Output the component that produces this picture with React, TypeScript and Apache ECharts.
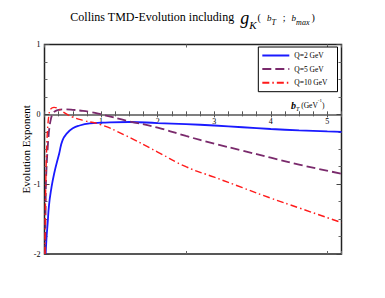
import React, { useEffect, useRef } from 'react';
import * as echarts from 'echarts';

const seriesNames = ['Q=2 GeV', 'Q=5 GeV', 'Q=10 GeV'];

const q2X = [0.02, 0.03, 0.04, 0.055, 0.08, 0.115, 0.17, 0.26, 0.32, 0.4, 0.5, 0.62, 0.8, 1.0, 1.5, 2.0, 2.5, 3.0, 3.5, 4.0, 4.5, 5.0, 5.25];
const q2Y = [-2.0, -1.85, -1.72, -1.57, -1.3, -1.09, -0.85, -0.56, -0.37, -0.27, -0.2, -0.16, -0.13, -0.12, -0.11, -0.125, -0.14, -0.16, -0.185, -0.21, -0.23, -0.245, -0.25];

const q5X = [0.012, 0.02, 0.025, 0.04, 0.055, 0.07, 0.085, 0.11, 0.14, 0.18, 0.25, 0.35, 0.5, 0.62, 0.8, 1.0, 1.5, 2.0, 2.5, 3.0, 3.5, 4.0, 4.5, 5.25];
const q5Y = [-2.0, -1.3, -1.0, -0.7, -0.5, -0.33, -0.2, -0.08, 0.0, 0.04, 0.065, 0.07, 0.065, 0.055, 0.035, 0.0, -0.1, -0.19, -0.31, -0.42, -0.52, -0.62, -0.72, -0.85];

const q10X = [0.008, 0.015, 0.025, 0.04, 0.06, 0.08, 0.1, 0.13, 0.17, 0.22, 0.3, 0.4, 0.5, 0.7, 1.0, 1.4, 2.0, 2.5, 3.0, 3.5, 4.0, 4.5, 5.25];
const q10Y = [-2.0, -1.4, -0.9, -0.45, -0.15, 0.0, 0.06, 0.09, 0.1, 0.09, 0.05, 0.0, -0.04, -0.09, -0.15, -0.29, -0.54, -0.75, -0.9, -1.05, -1.2, -1.34, -1.55];

const xTickValues = [1, 2, 3, 4, 5];
const yTickValues = [-2, -1, 0, 1];

const serif = "'Liberation Serif', 'Times New Roman', Times, serif";

const GRID_TOP = 44.5;
const GRID_BOTTOM = 44;
const CHART_H = 298;
const Y_MIN = -2;
const Y_MAX = 1;

export default function App() {
  const ref = useRef<HTMLDivElement>(null);
  useEffect(() => {
    const chart = echarts.init(ref.current!, null, { renderer: 'svg' });
    const zip = (xs: number[], ys: number[]) => xs.map((x, i) => [x, ys[i]]);
    const axisGray = '#555';
    const frame = '#222';
    const xFmt = (v: number) => (xTickValues.indexOf(v) >= 0 ? String(v) : '');
    const yFmt = (v: number) => (yTickValues.indexOf(v) >= 0 ? String(v) : '');
    const plotH = CHART_H - GRID_TOP - GRID_BOTTOM;
    const zeroOffset = -(plotH * (0 - Y_MIN)) / (Y_MAX - Y_MIN);
    const it = { fontFamily: serif, fontStyle: 'italic', color: '#000' };
    const up = { fontFamily: serif, color: '#000' };
    chart.setOption({
      animation: false,
      backgroundColor: '#fff',
      title: {
        left: 'center',
        top: 0,
        text: '{m|Collins TMD-Evolution including  }{g|g}{k|K}{p|(}{b1|b}{s|T}{sc|;}{b|b}{s|max}{pr|)}',
        textStyle: {
          fontFamily: serif,
          fontSize: 12,
          fontWeight: 'normal',
          color: '#000',
          lineHeight: 24,
          rich: {
            m: { ...up, fontSize: 12, lineHeight: 24, verticalAlign: 'middle' },
            g: { ...it, fontSize: 18, height: 21.4, lineHeight: 24, verticalAlign: 'bottom' },
            k: { ...it, fontSize: 11, height: 8.6, lineHeight: 24, verticalAlign: 'bottom' },
            p: { ...up, fontSize: 10, height: 22.2, lineHeight: 24, verticalAlign: 'bottom', padding: [0, 0, 0, 1] },
            pr: { ...up, fontSize: 10, height: 22.2, lineHeight: 24, verticalAlign: 'bottom', padding: [0, 0, 0, 2] },
            sc: { ...up, fontSize: 10, height: 22.2, lineHeight: 24, verticalAlign: 'bottom', padding: [0, 6, 0, 7] },
            b1: { ...it, fontSize: 9, height: 22.4, lineHeight: 24, verticalAlign: 'bottom', padding: [0, 0, 0, 6] },
            b: { ...it, fontSize: 9, height: 22.4, lineHeight: 24, verticalAlign: 'bottom' },
            s: { ...it, fontSize: 8, height: 12.6, lineHeight: 24, verticalAlign: 'bottom' },
          },
        },
      },
      legend: {
        data: seriesNames,
        orient: 'vertical',
        right: 47.5,
        top: 47,
        itemWidth: 27,
        itemHeight: 8,
        itemGap: 5.6,
        padding: [4.5, 10, 5, 3],
        borderColor: '#000',
        borderWidth: 1,
        borderRadius: 0,
        backgroundColor: '#fff',
        itemStyle: { opacity: 0, borderWidth: 0 },
        textStyle: { fontFamily: serif, fontSize: 7.5, color: '#000', lineHeight: 8 },
      },
      grid: {
        left: 44.5,
        right: 43.5,
        top: GRID_TOP,
        bottom: GRID_BOTTOM,
        show: true,
        borderColor: frame,
        borderWidth: 1.5,
        backgroundColor: 'transparent',
      },
      xAxis: [
        {
          type: 'value',
          min: 0,
          max: 5.25,
          interval: 1,
          position: 'bottom',
          offset: zeroOffset,
          axisLine: { show: true, onZero: false, lineStyle: { color: axisGray, width: 1.5 } },
          axisTick: { show: true, inside: false, length: 3, lineStyle: { color: axisGray, width: 1 } },
          minorTick: { show: true, splitNumber: 4, length: 2, lineStyle: { color: axisGray, width: 1 } },
          axisLabel: { fontFamily: serif, fontSize: 8, color: '#000', margin: 3, formatter: xFmt },
          splitLine: { show: false },
        },
        {
          type: 'value',
          min: 0,
          max: 5.25,
          interval: 1,
          position: 'bottom',
          offset: zeroOffset,
          axisLine: { show: false, onZero: false },
          axisTick: { show: true, inside: true, length: 3, lineStyle: { color: axisGray, width: 1 } },
          minorTick: { show: true, splitNumber: 4, length: 3, lineStyle: { color: axisGray, width: 1 } },
          axisLabel: { show: false },
          splitLine: { show: false },
        },
        {
          type: 'value',
          min: 0,
          max: 5.25,
          interval: 2.5,
          position: 'bottom',
          axisLine: { show: false, onZero: false },
          axisTick: { show: true, inside: true, length: 3, lineStyle: { color: '#666', width: 1 } },
          axisLabel: { show: false },
          splitLine: { show: false },
        },
        {
          type: 'value',
          min: 0,
          max: 5.25,
          interval: 2.5,
          position: 'top',
          axisLine: { show: false, onZero: false },
          axisTick: { show: true, inside: true, length: 3, lineStyle: { color: '#666', width: 1 } },
          axisLabel: { show: false },
          splitLine: { show: false },
        },
      ],
      yAxis: [
        {
          type: 'value',
          min: Y_MIN,
          max: Y_MAX,
          interval: 1,
          position: 'left',
          axisLine: { show: false, onZero: false },
          axisTick: { show: true, inside: true, length: 5, lineStyle: { color: '#444', width: 1 } },
          minorTick: { show: true, splitNumber: 4, length: 3, lineStyle: { color: '#666', width: 1 } },
          axisLabel: { fontFamily: serif, fontSize: 8, color: '#000', margin: 4, formatter: yFmt },
          splitLine: { show: false },
          name: 'Evolution Exponent',
          nameLocation: 'middle',
          nameGap: 13,
          nameMoveOverlap: false,
          nameTextStyle: { fontFamily: serif, fontSize: 11, color: '#000' },
        },
        {
          type: 'value',
          min: Y_MIN,
          max: Y_MAX,
          interval: 1,
          position: 'right',
          axisLine: { show: false, onZero: false },
          axisTick: { show: true, inside: true, length: 5, lineStyle: { color: '#444', width: 1 } },
          minorTick: { show: true, splitNumber: 4, length: 3, lineStyle: { color: '#666', width: 1 } },
          axisLabel: { show: false },
          splitLine: { show: false },
        },
      ],
      graphic: [
        {
          type: 'text',
          left: 291,
          top: 98,
          style: {
            text: '{b|b}{t|T}{u| (GeV}{e|-1}{u|)}',
            fontFamily: serif,
            fill: '#000',
            rich: {
              b: { fontFamily: serif, fontSize: 10, fontStyle: 'italic', fontWeight: 'bold', lineHeight: 14, fill: '#000' },
              t: { fontFamily: serif, fontSize: 6, fontStyle: 'italic', lineHeight: 8, verticalAlign: 'bottom', fill: '#000' },
              u: { fontFamily: serif, fontSize: 7.5, lineHeight: 14, fill: '#000' },
              e: { fontFamily: serif, fontSize: 5, lineHeight: 8, verticalAlign: 'top', fill: '#000' },
            },
          },
        },
      ],
      series: [
        {
          name: seriesNames[0],
          type: 'line',
          data: zip(q2X, q2Y),
          smooth: true,
          symbol: 'none',
          showSymbol: false,
          color: '#1a1aff',
          lineStyle: { color: '#1a1aff', width: 1.8, type: 'solid' },
          z: 3,
        },
        {
          name: seriesNames[1],
          type: 'line',
          data: zip(q5X, q5Y),
          smooth: true,
          symbol: 'none',
          showSymbol: false,
          color: '#7a2a6c',
          lineStyle: { color: '#7a2a6c', width: 1.8, type: [9, 4] },
          z: 3,
        },
        {
          name: seriesNames[2],
          type: 'line',
          data: zip(q10X, q10Y),
          smooth: true,
          symbol: 'none',
          showSymbol: false,
          color: '#ff1a1a',
          lineStyle: { color: '#ff1a1a', width: 1.4, type: [7, 3, 1.5, 3] },
          z: 3,
        },
      ],
    });
    return () => chart.dispose();
  }, []);
  return <div ref={ref} style={{ position: 'fixed', left: 0, top: 0, width: 385, height: 298 }} />;
}
